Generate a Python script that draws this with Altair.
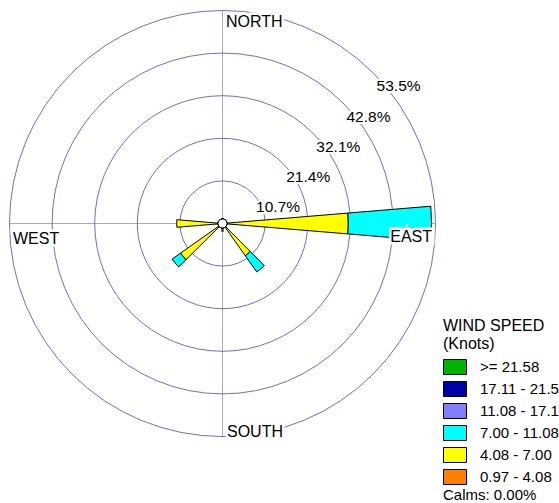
import math
import altair as alt
import pandas as pd

# Wind directions (degrees clockwise from north) and frequency (%) per speed class
directions = [90, 140, 180, 230, 270]
pct_097_408 = [0.0, 0.0, 0.0, 0.0, 0.0]
pct_408_700 = [31.6, 9.9, 2.0, 12.9, 11.5]
pct_700_1108 = [20.9, 5.0, 0.0, 2.6, 0.0]
pct_1108_1711 = [0.0, 0.0, 0.0, 0.0, 0.0]
pct_1711_2158 = [0.0, 0.0, 0.0, 0.0, 0.0]
pct_ge_2158 = [0.0, 0.0, 0.0, 0.0, 0.0]

# Speed classes, top of legend first
speed_bins = [">= 21.58", "17.11 - 21.58", "11.08 - 17.11", "7.00 - 11.08", "4.08 - 7.00", "0.97 - 4.08"]
bin_colors = ["#00B400", "#0000A8", "#8080FF", "#00FFFF", "#FFFF00", "#FF8000"]

ring_values = [10.7, 21.4, 32.1, 42.8, 53.5]
ring_labels = ["10.7%", "21.4%", "32.1%", "42.8%", "53.5%"]
compass_names = ["NORTH", "EAST", "SOUTH", "WEST"]
compass_deg = [0, 90, 180, 270]
calms_text = "Calms: 0.00%"
sector_width = 9.5
max_pct = 53.5

FONT = "Liberation Sans"
SIZE = 426
PX = max_pct / (SIZE / 2)  # percent per pixel along the axes

# stacked wedges, lowest speed class innermost
series = [pct_097_408, pct_408_700, pct_700_1108, pct_1108_1711, pct_1711_2158, pct_ge_2158]
rows = []
for i, d in enumerate(directions):
    cum = 0.0
    for label, vals in zip(reversed(speed_bins), series):
        v = vals[i]
        if v > 0:
            rows.append({"start": d - sector_width / 2, "end": d + sector_width / 2,
                         "inner": cum, "outer": cum + v, "speed": label})
            cum += v
wedges = pd.DataFrame(rows)

rings = pd.DataFrame({"r": ring_values, "label": ring_labels, "deg": [45] * len(ring_values)})
compass = pd.DataFrame({"name": compass_names, "deg": compass_deg, "r": [max_pct] * 4})
cross = pd.DataFrame({"x": [0, -max_pct], "y": [-max_pct, 0], "x2": [0, max_pct], "y2": [max_pct, 0]})
# white box behind the EAST label, which sits over the bars
east_box = pd.DataFrame({"x": [max_pct - 43 * PX], "x2": [max_pct - 1 * PX],
                         "y": [-4.5 * PX], "y2": [-21.5 * PX]})

theta_scale = alt.Scale(domain=[0, 360], range=[0, 2 * math.pi], zero=True, nice=False)
r_scale = alt.Scale(type="linear", domain=[0, max_pct], zero=True, nice=False)
xy_scale = alt.Scale(domain=[-max_pct, max_pct], nice=False, zero=False)

ring_layer = alt.Chart(rings).mark_arc(
    theta=0, theta2=2 * math.pi, filled=False, stroke="#6E6ECC", strokeWidth=1
).encode(radius=alt.Radius("r:Q", scale=r_scale, stack=False))

cross_layer = alt.Chart(cross).mark_rule(
    color="#50509A", strokeWidth=1, strokeDash=[1, 1]
).encode(
    x=alt.X("x:Q", scale=xy_scale, axis=None),
    y=alt.Y("y:Q", scale=xy_scale, axis=None),
    x2="x2:Q", y2="y2:Q",
)

wedge_layer = alt.Chart(wedges).mark_arc(stroke="black", strokeWidth=1).encode(
    theta=alt.Theta("start:Q", scale=theta_scale, stack=False),
    theta2="end:Q",
    radius=alt.Radius("outer:Q", scale=r_scale, stack=False),
    radius2="inner:Q",
    color=alt.Color(
        "speed:N",
        scale=alt.Scale(domain=speed_bins, range=bin_colors),
        legend=alt.Legend(
            title=["WIND SPEED", "(Knots)"], orient="none", legendX=433.5, legendY=307.5,
            symbolType="M-1,-0.652L1,-0.652L1,0.652L-1,0.652Z", symbolSize=529,
            symbolStrokeColor="black", symbolStrokeWidth=1, symbolOpacity=1,
            labelFont=FONT, labelFontSize=15, labelColor="black", labelOffset=13, labelLimit=300,
            titleFont=FONT, titleFontSize=16, titleFontWeight="normal", titleColor="black",
            titleLineHeight=18, titlePadding=3, rowPadding=-2.2, padding=0,
        ),
    ),
)

calm_layer = alt.Chart(rings).mark_arc(
    theta=0, theta2=2 * math.pi, fill="white", stroke="black", strokeWidth=1
).encode(radius=alt.value(4.5))

ring_text_args = dict(align="left", baseline="top", dx=3.5, dy=6.5, font=FONT, fontSize=15.5)
ring_halo = alt.Chart(rings).mark_text(
    stroke="white", strokeWidth=4, color="white", **ring_text_args
).encode(theta=alt.Theta("deg:Q", scale=theta_scale), radius=alt.Radius("r:Q", scale=r_scale), text="label:N")
ring_text = alt.Chart(rings).mark_text(color="black", **ring_text_args).encode(
    theta=alt.Theta("deg:Q", scale=theta_scale), radius=alt.Radius("r:Q", scale=r_scale), text="label:N"
)

east_box_layer = alt.Chart(east_box).mark_rect(color="white").encode(
    x=alt.X("x:Q", scale=xy_scale, axis=None), x2="x2:Q",
    y=alt.Y("y:Q", scale=xy_scale, axis=None), y2="y2:Q",
)

compass_style = {
    "NORTH": dict(align="left", baseline="top", dx=3.5, dy=3.3),
    "EAST": dict(align="right", baseline="top", dx=-3.5, dy=5.3),
    "SOUTH": dict(align="left", baseline="alphabetic", dx=4.5, dy=0.5),
    "WEST": dict(align="left", baseline="top", dx=3.5, dy=7),
}
compass_layers = []
for name, style in compass_style.items():
    base = alt.Chart(compass).transform_filter(alt.datum.name == name)
    enc = dict(theta=alt.Theta("deg:Q", scale=theta_scale), radius=alt.Radius("r:Q", scale=r_scale), text="name:N")
    compass_layers.append(base.mark_text(stroke="white", strokeWidth=5, color="white",
                                         font=FONT, fontSize=16, **style).encode(**enc))
    compass_layers.append(base.mark_text(color="black", font=FONT, fontSize=16, **style).encode(**enc))

calms_layer = alt.Chart(pd.DataFrame({"t": [calms_text]})).mark_text(
    align="left", baseline="alphabetic", font=FONT, fontSize=15, color="black"
).encode(x=alt.value(433.5), y=alt.value(489.5), text="t:N")

chart = alt.layer(
    ring_layer, cross_layer, wedge_layer, calm_layer, ring_halo, ring_text, east_box_layer,
    *compass_layers, calms_layer
).properties(
    width=SIZE, height=SIZE,
    background="white",
    autosize=alt.AutoSizeParams(type="none"),
    padding={"left": 9.5, "top": 10.5, "right": 559 - 9.5 - SIZE, "bottom": 503 - 10.5 - SIZE},
).configure_view(stroke=None)

chart.save("out.html", embed_options={"renderer": "svg", "actions": False})
